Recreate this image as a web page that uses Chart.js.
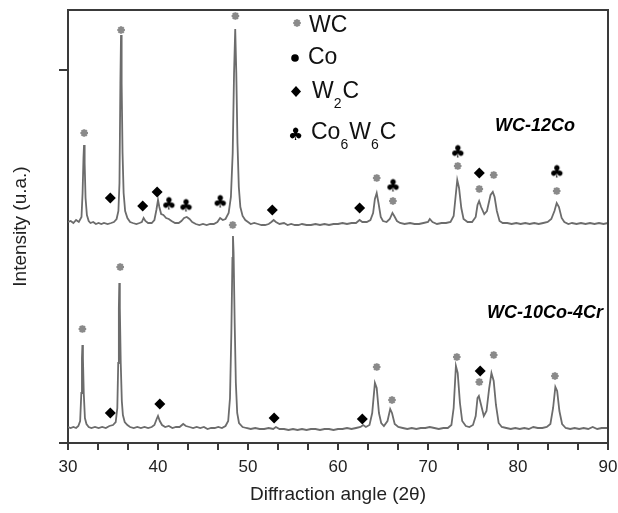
<!DOCTYPE html>
<html lang="en">
<head>
<meta charset="UTF-8">
<title>XRD WC-12Co / WC-10Co-4Cr</title>
<style>
  body{ margin:0; background:#fff; }
  .wrap{ width:618px; height:513px; }
</style>
</head>
<body>
<div class="wrap"><canvas id="xrd" width="618" height="513"></canvas></div>
<script src="https://cdn.jsdelivr.net/npm/chart.js"></script>
<script>
// tick labels (2 theta) and the two y tick marks (arbitrary units)
const xTickLabels = [30, 40, 50, 60, 70, 80, 90];
const yTickValues = [0, 373];

// WC-12Co pattern, [2theta, intensity]
const wc12co = [
  [30.0,221],[30.3,222],[30.6,220],[30.9,223],[31.2,221],[31.5,226],[31.62,250],[31.72,285],[31.78,298],[31.85,280],
  [31.95,245],[32.1,228],[32.3,222],[32.5,220],[32.8,221],[33.1,219],[33.4,220],[33.7,219],[34.0,220],[34.4,219],
  [34.8,220],[35.1,221],[35.4,224],[35.6,232],[35.72,260],[35.82,360],[35.89,408],[35.96,360],[36.06,290],[36.18,250],
  [36.35,232],[36.6,225],[36.9,221],[37.2,220],[37.6,219],[37.95,220],[38.2,221],[38.4,225],[38.6,222],[38.9,220],
  [39.3,220],[39.6,223],[39.82,233],[40.0,243],[40.15,236],[40.35,229],[40.6,228],[40.9,225],[41.2,224],[41.5,222],
  [41.9,220],[42.3,220],[42.6,222],[42.9,225],[43.2,226],[43.5,224],[43.8,221],[44.2,219],[44.6,218],[45.0,219],
  [45.4,218],[45.8,219],[46.2,219],[46.6,221],[46.9,225],[47.2,223],[47.5,224],[47.85,230],[48.1,246],[48.3,290],
  [48.45,370],[48.58,414],[48.7,370],[48.83,300],[48.98,256],[49.15,236],[49.4,227],[49.7,223],[50.0,221],[50.3,219],
  [50.7,220],[51.1,219],[51.5,218],[51.9,218],[52.3,219],[52.6,221],[52.85,223],[53.1,221],[53.5,219],[54.0,220],
  [54.4,218],[54.8,219],[55.2,218],[55.6,218],[56.0,219],[56.5,218],[57.0,218],[57.5,219],[58.0,218],[58.5,219],
  [59.0,218],[59.5,219],[60.0,219],[60.5,220],[61.0,219],[61.5,220],[62.0,220],[62.4,223],[62.7,221],[63.2,221],
  [63.6,223],[63.9,230],[64.1,244],[64.3,250],[64.5,240],[64.75,226],[65.0,222],[65.4,221],[65.75,224],[66.05,230],
  [66.25,227],[66.55,222],[66.9,220],[67.4,219],[68.0,220],[68.5,219],[69.0,219],[69.5,220],[70.0,221],[70.2,224],
  [70.5,221],[71.0,219],[71.5,220],[72.0,220],[72.5,221],[72.85,227],[73.05,245],[73.25,263],[73.45,255],[73.7,235],
  [73.95,224],[74.4,221],[74.9,221],[75.3,226],[75.5,238],[75.68,242],[75.9,236],[76.25,229],[76.55,232],[76.95,248],
  [77.2,251],[77.4,246],[77.65,232],[77.95,222],[78.3,220],[78.8,220],[79.3,219],[79.8,220],[80.3,219],[80.8,220],
  [81.3,219],[81.8,220],[82.3,219],[82.8,220],[83.3,221],[83.7,224],[84.05,232],[84.3,240],[84.55,236],[84.85,225],
  [85.15,221],[85.6,219],[86.0,220],[86.5,219],[87.0,220],[87.5,219],[88.0,220],[88.5,219],[89.0,220],[89.5,219],
  [90.0,220]
];

// WC-10Co-4Cr pattern, [2theta, intensity]
const wc10co4cr = [
  [30.0,16],[30.3,15],[30.6,16],[30.9,15],[31.15,17],[31.35,22],[31.48,50],[31.55,85],[31.6,98],[31.66,85],
  [31.75,50],[31.88,25],[32.05,19],[32.3,16],[32.6,15],[33.0,16],[33.4,15],[33.8,16],[34.2,15],[34.6,17],
  [35.0,18],[35.3,21],[35.48,35],[35.58,80],[35.65,135],[35.7,160],[35.76,135],[35.86,80],[35.98,42],[36.1,28],
  [36.3,21],[36.6,18],[36.9,16],[37.3,15],[37.7,16],[38.1,15],[38.5,16],[38.9,15],[39.3,16],[39.6,18],
  [39.85,24],[40.0,27],[40.2,22],[40.45,18],[40.8,16],[41.2,17],[41.6,15],[42.0,16],[42.4,16],[42.8,19],
  [43.1,17],[43.5,16],[43.9,15],[44.3,16],[44.7,15],[45.1,16],[45.5,14],[45.9,15],[46.3,15],[46.7,16],
  [47.1,15],[47.5,17],[47.8,22],[48.0,45],[48.15,110],[48.27,185],[48.33,207],[48.4,190],[48.52,120],[48.65,60],
  [48.8,30],[49.0,20],[49.4,16],[49.8,15],[50.3,14],[50.8,15],[51.3,14],[51.8,14],[52.3,15],[52.8,14],
  [53.1,16],[53.5,14],[54.0,14],[54.5,13],[55.0,14],[55.5,13],[56.0,14],[56.5,13],[57.0,14],[57.5,14],
  [58.0,13],[58.5,14],[59.0,14],[59.5,13],[60.0,14],[60.5,14],[61.0,15],[61.5,14],[62.0,15],[62.5,16],
  [62.8,18],[63.1,16],[63.5,18],[63.8,30],[64.1,60],[64.3,55],[64.55,30],[64.8,20],[65.1,17],[65.5,22],
  [65.8,34],[66.0,30],[66.3,19],[66.7,16],[67.2,15],[67.7,14],[68.2,15],[68.7,14],[69.2,15],[69.7,15],
  [70.2,16],[70.7,15],[71.2,14],[71.7,15],[72.2,15],[72.6,18],[72.85,35],[73.1,77],[73.3,70],[73.55,40],
  [73.8,22],[74.2,17],[74.6,16],[75.0,18],[75.3,27],[75.5,45],[75.65,47],[75.9,38],[76.2,27],[76.5,32],
  [76.8,55],[77.05,70],[77.3,62],[77.55,38],[77.85,20],[78.2,16],[78.7,15],[79.2,14],[79.7,15],[80.2,14],
  [80.7,15],[81.2,14],[81.7,16],[82.2,15],[82.7,15],[83.2,16],[83.6,19],[83.9,35],[84.15,56],[84.35,52],
  [84.6,32],[84.9,19],[85.3,15],[85.8,14],[86.3,15],[86.8,14],[87.3,15],[87.8,14],[88.3,16],[88.8,14],
  [89.3,15],[90.0,15]
];

// phase markers above the peaks, [2theta, height]
const wcMarks = [
  [31.8,310],[35.9,413],[48.6,427],[64.3,265],[66.1,242],[73.3,277],[75.7,254],[77.3,268],[84.3,252],
  [31.6,114],[35.8,176],[48.3,218],[64.3,76],[66.0,43],[73.2,86],[75.7,61],[77.3,88],[84.1,67]
];
const w2cMarks = [
  [34.7,245],[38.3,237],[39.9,251],[52.7,233],[62.4,235],[75.7,270],
  [34.7,30],[40.2,39],[52.9,25],[62.7,24],[75.8,72]
];
const co6w6cMarks = [
  [41.2,239],[43.1,237],[46.9,241],[66.1,257],[73.3,291],[84.3,271]
];

const FONT = '"Liberation Sans", Arial, sans-serif';
const toXY = arr => arr.map(p => ({x: p[0], y: p[1]}));

function makeClub(size){
  const c = document.createElement('canvas');
  c.width = size; c.height = size;
  const g = c.getContext('2d');
  g.fillStyle = '#000';
  g.font = size + 'px "DejaVu Sans"';
  g.textAlign = 'center';
  g.textBaseline = 'middle';
  g.fillText('\u2663', size / 2, size / 2 + 1);
  return c;
}
const club = makeClub(17);

// text with subscripts: parts = [[text, isSub], ...]
function drawParts(ctx, parts, x, y){
  parts.forEach(p => {
    ctx.font = (p[1] ? '14px ' : '23px ') + FONT;
    ctx.fillText(p[0], x, p[1] ? y + 10 : y);
    x += ctx.measureText(p[0]).width + (p[1] ? 1 : 0);
  });
}

const decor = {
  id: 'decor',
  afterDraw(chart){
    const ctx = chart.ctx;
    const a = chart.chartArea;
    ctx.save();
    // frame top + right
    ctx.strokeStyle = '#3a3a3a';
    ctx.lineWidth = 2;
    ctx.beginPath();
    ctx.moveTo(a.left, a.top);
    ctx.lineTo(a.right, a.top);
    ctx.lineTo(a.right, a.bottom);
    ctx.stroke();

    // legend
    ctx.fillStyle = '#111';
    ctx.textBaseline = 'alphabetic';
    ctx.textAlign = 'left';
    drawParts(ctx, [['WC', 0]], 309, 32);
    drawParts(ctx, [['Co', 0]], 308, 64);
    drawParts(ctx, [['W', 0], ['2', 1], ['C', 0]], 312, 98);
    drawParts(ctx, [['Co', 0], ['6', 1], ['W', 0], ['6', 1], ['C', 0]], 311, 139);

    // legend symbols
    ctx.strokeStyle = '#8a8a8a';
    ctx.lineWidth = 2.2;
    ctx.beginPath();
    for (let k = 0; k < 4; k++){
      const t = k * Math.PI / 4;
      ctx.moveTo(297 - 3.8 * Math.cos(t), 23 - 3.8 * Math.sin(t));
      ctx.lineTo(297 + 3.8 * Math.cos(t), 23 + 3.8 * Math.sin(t));
    }
    ctx.stroke();
    ctx.fillStyle = '#000';
    ctx.beginPath();
    ctx.arc(295, 58, 3.8, 0, Math.PI * 2);
    ctx.fill();
    ctx.beginPath();
    ctx.moveTo(296, 86); ctx.lineTo(301, 91.5); ctx.lineTo(296, 97); ctx.lineTo(291, 91.5);
    ctx.closePath();
    ctx.fill();
    ctx.drawImage(club, 287, 126);

    // sample names
    ctx.font = 'italic bold 18px ' + FONT;
    ctx.fillStyle = '#000';
    ctx.textBaseline = 'middle';
    ctx.fillText('WC-12Co', 495, 126);
    ctx.fillText('WC-10Co-4Cr', 487, 313);
    ctx.restore();
  }
};

new Chart(document.getElementById('xrd'), {
  type: 'line',
  data: {
    datasets: [
      {
        label: 'WC-12Co', data: toXY(wc12co),
        borderColor: '#6c6c6c', borderWidth: 1.8, pointRadius: 0, tension: 0, order: 3
      },
      {
        label: 'WC-10Co-4Cr', data: toXY(wc10co4cr),
        borderColor: '#6c6c6c', borderWidth: 1.8, pointRadius: 0, tension: 0, order: 3
      },
      {
        label: 'WC', data: toXY(wcMarks), showLine: false,
        pointStyle: 'star', pointRadius: 3.8, pointBorderWidth: 2.2,
        pointBorderColor: '#8a8a8a', pointBackgroundColor: '#8a8a8a', order: 1
      },
      {
        label: 'W2C', data: toXY(w2cMarks), showLine: false,
        pointStyle: 'rectRot', pointRadius: 5.5, pointBorderWidth: 0,
        pointBorderColor: '#000', pointBackgroundColor: '#000', order: 1
      },
      {
        label: 'Co6W6C', data: toXY(co6w6cMarks), showLine: false,
        pointStyle: club, pointRadius: 6, order: 1
      }
    ]
  },
  options: {
    responsive: false,
    animation: false,
    events: [],
    layout: { padding: { top: 10, right: 0, left: 0, bottom: 0 } },
    plugins: { legend: { display: false }, tooltip: { enabled: false } },
    scales: {
      x: {
        type: 'linear', min: 30, max: 90,
        border: { color: '#3a3a3a', width: 2 },
        grid: { drawOnChartArea: false, tickLength: 7, color: '#3a3a3a', lineWidth: 2 },
        afterBuildTicks: s => {
          const t = [];
          for (let i = 0; i < xTickLabels.length - 1; i++){
            for (let j = 0; j < 3; j++) t.push({ value: xTickLabels[i] + j * (xTickLabels[i + 1] - xTickLabels[i]) / 3 });
          }
          t.push({ value: xTickLabels[xTickLabels.length - 1] });
          s.ticks = t;
        },
        ticks: {
          autoSkip: false, maxRotation: 0, padding: 7,
          color: '#222', font: { family: FONT, size: 17 },
          callback: v => xTickLabels.includes(Math.round(v * 1000) / 1000) ? String(v) : ''
        },
        title: {
          display: true, text: 'Diffraction angle (2\u03b8)', color: '#222',
          font: { family: FONT, size: 19 }, padding: { top: 0, bottom: 7 }
        },
        afterFit: s => { s.height = 70; s.paddingRight = 10; s.paddingLeft = 0; }
      },
      y: {
        min: 0, max: 433,
        border: { color: '#3a3a3a', width: 2 },
        grid: { drawOnChartArea: false, tickLength: 9, color: '#3a3a3a', lineWidth: 2 },
        afterBuildTicks: s => { s.ticks = yTickValues.map(v => ({ value: v })); },
        ticks: { display: false },
        title: {
          display: true, text: 'Intensity (u.a.)', color: '#222',
          font: { family: FONT, size: 19 }, padding: { top: 9, bottom: 0 }
        },
        afterFit: s => { s.width = 68; }
      }
    }
  },
  plugins: [decor]
});
</script>
</body>
</html>
